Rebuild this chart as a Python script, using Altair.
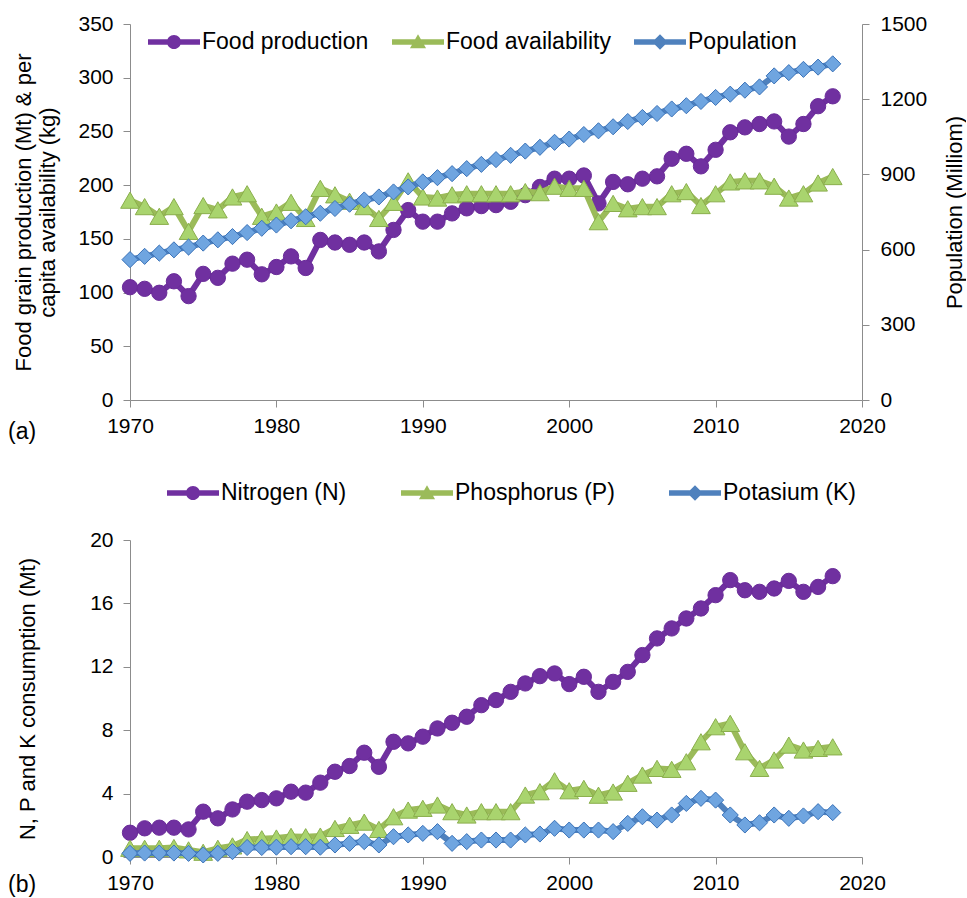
import altair as alt
import pandas as pd

# ---- data -------------------------------------------------------------
years = list(range(1970, 2019))

food_production = [105.0, 103.5, 99.8, 110.5, 96.7, 117.4, 113.7, 126.9, 130.6, 117.0,
                   123.8, 133.7, 122.9, 149.0, 146.6, 144.5, 146.6, 138.3, 158.3, 176.8,
                   166.0, 166.0, 173.7, 178.4, 180.5, 181.4, 184.5, 190.7, 198.3, 206.0,
                   206.0, 209.0, 183.0, 203.0, 200.8, 206.0, 208.2, 224.6, 229.2, 217.5,
                   232.9, 249.2, 253.8, 256.9, 259.3, 245.2, 256.9, 273.5, 282.7]

food_availability = [186, 180, 171, 180, 157, 181, 177, 189, 192, 171,
                     175, 184, 169, 197, 191, 185, 180, 169, 184, 204,
                     189, 188, 191, 192, 192, 192, 192, 194, 193, 199,
                     197, 197, 166, 183, 178, 180, 180, 192, 194, 181,
                     192, 203, 204, 204, 199, 188, 192, 202, 208]

population = [560, 573, 586, 599, 610, 626, 639, 652, 668, 685,
              698, 715, 731, 745, 764, 781, 798, 810, 830, 850,
              870, 887, 903, 923, 940, 959, 976, 993, 1008, 1028,
              1041, 1059, 1074, 1090, 1111, 1127, 1143, 1161, 1174, 1191,
              1207, 1220, 1236, 1249, 1293, 1306, 1319, 1328, 1341]

nitrogen = [1.53, 1.81, 1.85, 1.85, 1.74, 2.86, 2.44, 3.00, 3.49, 3.59,
            3.70, 4.12, 4.06, 4.69, 5.38, 5.74, 6.58, 5.69, 7.27, 7.17,
            7.59, 8.11, 8.47, 8.85, 9.58, 9.90, 10.42, 10.95, 11.41, 11.58,
            10.91, 11.37, 10.42, 11.05, 11.68, 12.74, 13.79, 14.42, 15.05, 15.68,
            16.52, 17.47, 16.83, 16.73, 16.94, 17.42, 16.73, 17.04, 17.72]

phosphorus = [0.55, 0.55, 0.55, 0.60, 0.45, 0.30, 0.55, 0.70, 1.10, 1.15,
              1.20, 1.30, 1.28, 1.32, 1.80, 2.00, 2.20, 1.74, 2.54, 2.96,
              3.07, 3.28, 2.86, 2.65, 2.86, 2.86, 2.86, 3.91, 4.12, 4.81,
              4.18, 4.33, 3.90, 4.10, 4.65, 5.17, 5.59, 5.53, 6.01, 7.27,
              8.22, 8.43, 6.64, 5.59, 6.12, 7.06, 6.75, 6.85, 6.95]

potassium = [0.23, 0.25, 0.25, 0.25, 0.23, 0.13, 0.23, 0.34, 0.60, 0.60,
             0.62, 0.65, 0.65, 0.62, 0.76, 0.86, 0.97, 0.76, 1.28, 1.39,
             1.49, 1.60, 0.86, 0.97, 1.07, 1.07, 1.07, 1.39, 1.45, 1.81,
             1.70, 1.70, 1.70, 1.60, 2.12, 2.54, 2.33, 2.65, 3.38, 3.70,
             3.59, 2.65, 2.02, 2.16, 2.65, 2.44, 2.59, 2.86, 2.80]

top_series = ["Food production", "Food availability", "Population"]
bottom_series = ["Nitrogen (N)", "Phosphorus (P)", "Potasium (K)"]

left_ticks_a = [0, 50, 100, 150, 200, 250, 300, 350]
right_ticks_a = [0, 300, 600, 900, 1200, 1500]
left_ticks_b = [0, 4, 8, 12, 16, 20]
year_ticks = [1970, 1980, 1990, 2000, 2010, 2020]

# ---- styling ----------------------------------------------------------
FONT = "Liberation Sans"
AXIS_GREY = "#8c8c8c"
line_colors = ["#7030A0", "#9BBB59", "#4F81BD"]
fill_colors = ["#7030A0", "#A9D46E", "#6FA5E0"]
edge_colors = ["#6A2C99", "#8AAE4C", "#3A72B8"]
marker_shapes = ["circle", "triangle-up", "diamond"]
marker_sizes = [235, 350, 260]

# legend glyphs: a thick line segment with the series marker on top
BAR = "M-1,-0.11H1V0.11H-1Z"
legend_glyphs = [
    BAR + "M0.27,0A0.27,0.27,0,1,1,-0.27,0A0.27,0.27,0,1,1,0.27,0Z",
    BAR + "M0,-0.3L0.31,0.24L-0.31,0.24Z",
    BAR + "M0,-0.3L0.3,0L0,0.3L-0.3,0Z",
]

# legend entry positions (left edge of each glyph, from the plot's left edge)
legend_x_a = [18, 262, 504]
legend_x_b = [37, 271, 539]

PLOT_W = 732
TOP_H = 376
BOT_H = 317

x_scale = alt.Scale(domain=[1970, 2020], nice=False, zero=False)
x_axis = alt.Axis(values=year_ticks, format="d", title=None, labelFlush=False,
                  tickSize=7, labelPadding=8)


def frame(values):
    return pd.DataFrame({"year": years, "value": values})


def series(values, i, y_scale, y_axis):
    base = alt.Chart(frame(values)).encode(
        x=alt.X("year:Q", scale=x_scale, axis=x_axis),
        y=alt.Y("value:Q", scale=y_scale, axis=y_axis),
    )
    line = base.mark_line(color=line_colors[i], strokeWidth=6,
                          strokeJoin="round", strokeCap="round")
    pts = base.mark_point(filled=True, shape=marker_shapes[i], size=marker_sizes[i],
                          fill=fill_colors[i], stroke=edge_colors[i],
                          strokeWidth=1, opacity=1)
    return line + pts


def legend_spec(x, y):
    return alt.Legend(orient="none", legendX=x, legendY=y,
                      direction="horizontal", title=None,
                      symbolSize=2704, symbolStrokeWidth=0,
                      symbolOpacity=1, labelFont=FONT,
                      labelFontSize=23, labelColor="black",
                      labelOffset=2, labelLimit=400)


def legend_entry(name, i, x, y):
    # one legend per series, so each entry sits at its own position
    return alt.Chart(pd.DataFrame({"series": [name]})).mark_point(
        filled=True, opacity=0
    ).encode(
        x=alt.value(0),
        y=alt.value(0),
        color=alt.Color("series:N",
                        scale=alt.Scale(domain=[name], range=[line_colors[i]]),
                        legend=legend_spec(x, y)),
        shape=alt.Shape("series:N",
                        scale=alt.Scale(domain=[name], range=[legend_glyphs[i]]),
                        legend=legend_spec(x, y)),
    )


def panel_tag(text, y):
    return alt.Chart(pd.DataFrame({"tag": [text]})).mark_text(
        align="left", baseline="middle", font=FONT, fontSize=23, color="black"
    ).encode(x=alt.value(-122), y=alt.value(y), text="tag:N")


# ---- panel (a) ---------------------------------------------------------
left_scale_a = alt.Scale(domain=[0, 350], nice=False)
left_axis_a = alt.Axis(values=left_ticks_a, format="d",
                       title=["Food grain production (Mt) & per", "capita availability (kg)"],
                       titlePadding=18, labelPadding=10, tickSize=7, titleLineHeight=24)
right_scale_a = alt.Scale(domain=[0, 1500], nice=False)
right_axis_a = alt.Axis(orient="right", values=right_ticks_a, format="d",
                        title="Population (Milliom)",
                        titleAngle=270, titleBaseline="top", titlePadding=18,
                        labelPadding=11, tickSize=7)

left_a = alt.layer(
    series(food_production, 0, left_scale_a, left_axis_a),
    series(food_availability, 1, left_scale_a, left_axis_a),
)
right_a = series(population, 2, right_scale_a, right_axis_a)

panel_a = alt.layer(
    left_a, right_a,
    *[legend_entry(n, i, legend_x_a[i], -8) for i, n in enumerate(top_series)],
    panel_tag("(a)", 408),
).resolve_scale(
    y="independent", color="independent", shape="independent"
).properties(width=PLOT_W, height=TOP_H)

# ---- panel (b) ---------------------------------------------------------
left_scale_b = alt.Scale(domain=[0, 20], nice=False)
left_axis_b = alt.Axis(values=left_ticks_b, format="d", title="N, P and K consumption (Mt)",
                       titlePadding=50, labelPadding=10, tickSize=7)

panel_b = alt.layer(
    series(nitrogen, 0, left_scale_b, left_axis_b),
    series(phosphorus, 1, left_scale_b, left_axis_b),
    series(potassium, 2, left_scale_b, left_axis_b),
    *[legend_entry(n, i, legend_x_b[i], -73) for i, n in enumerate(bottom_series)],
    panel_tag("(b)", 345),
).resolve_scale(
    color="independent", shape="independent"
).properties(width=PLOT_W, height=BOT_H)

chart = alt.vconcat(panel_a, panel_b, spacing=140, bounds="flush").resolve_scale(
    color="independent", shape="independent"
).resolve_legend(
    color="independent", shape="independent"
).properties(
    padding={"left": 8, "top": 13, "right": 0, "bottom": 0},
    background="white",
).configure_view(stroke=None).configure_axis(
    grid=False,
    domainColor=AXIS_GREY,
    tickColor=AXIS_GREY,
    labelFont=FONT,
    titleFont=FONT,
    labelFontSize=21,
    titleFontSize=22,
    titleFontWeight="normal",
    labelColor="black",
    titleColor="black",
)

chart.save("out.html", embed_options={"renderer": "svg", "actions": False})
